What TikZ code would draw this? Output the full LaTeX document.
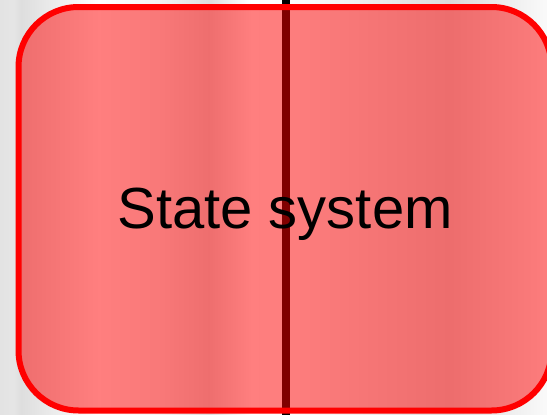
\documentclass[tikz,border=0pt]{standalone}
\usepackage{fontspec}
\setmainfont{Liberation Sans}
\begin{document}
\begin{tikzpicture}[x=1pt, y=-1pt]
        \tikzset{
            statebox/.style={draw=red, line width=6pt, fill=red, fill opacity=0.5,
                text opacity=1, rounded corners=60pt, inner sep=0pt,
                text height=40pt, text depth=0pt,
                font=\fontsize{58}{63}\selectfont},
            divider/.style={black, line width=8pt}
        }
        \useasboundingbox (0,0) rectangle (547,415);
        % striped grey background
        \foreach \xa/\ca/\xb/\cb in {0/11/14/10, 14/10/21/13, 21/13/98/0, 98/0/160/5,
                160/5/209/13, 209/13/251/0, 251/0/290/1, 290/1/340/5, 340/5/450/14, 450/14/547/2} {
            \shade[left color=black!\ca, right color=black!\cb] (\xa,0) rectangle (\xb+0.3,415);
        }
        % line behind the box
        \coordinate (linetop) at (286,0);
        \coordinate (linebottom) at (286,415);
        \draw[divider] (linetop) -- (linebottom);
        \node[statebox, minimum width=533pt, minimum height=403.5pt] (state) at (285,208.75) {State system};
    \end{tikzpicture}
\end{document}
